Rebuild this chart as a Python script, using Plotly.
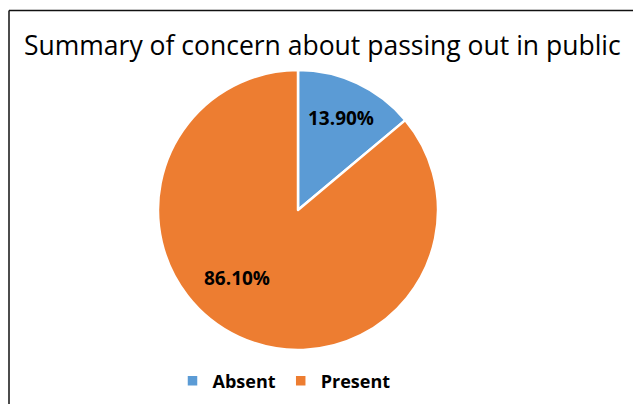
import math
import plotly.graph_objects as go

# Survey result: concern about passing out in public
categories = ["Absent", "Present"]
shares = [13.90, 86.10]
colors = ["#5B9BD5", "#ED7D31"]
title_text = "Summary of concern about passing out in public"

W, H = 633, 404
cx, cy, r = 298, 210, 140  # pie centre and radius in pixels

fig = go.Figure(
    go.Pie(
        labels=categories,
        values=shares,
        sort=False,
        direction="clockwise",
        rotation=0,
        marker=dict(colors=colors, line=dict(color="white", width=2.5)),
        textinfo="none",
        hoverinfo="label+percent",
        domain=dict(x=[(cx - r) / W, (cx + r) / W], y=[1 - (cy + r) / H, 1 - (cy - r) / H]),
    )
)

# Percentage labels placed inside each slice: (angle in degrees clockwise from top, radius px)
total = sum(shares)
mid_absent = shares[0] / total * 180
label_pos = [(mid_absent, 102), (222, 91)]
annotations = []
for v, (deg, rad) in zip(shares, label_pos):
    ang = math.radians(deg)
    x = cx + rad * math.sin(ang)
    y = cy - rad * math.cos(ang)
    annotations.append(dict(
        x=x / W, y=1 - y / H, xref="paper", yref="paper",
        text=f"<b>{v:.2f}%</b>", showarrow=False,
        font=dict(family="Open Sans", size=19, color="black"),
        xanchor="center", yanchor="middle",
    ))

annotations.append(dict(
    x=322 / W, y=1 - 45 / H, xref="paper", yref="paper",
    text=title_text, showarrow=False,
    font=dict(family="Open Sans", size=26.5, color="black"),
    xanchor="center", yanchor="middle",
))

fig.update_layout(
    width=W, height=H,
    margin=dict(l=0, r=0, t=0, b=0),
    paper_bgcolor="white",
    plot_bgcolor="white",
    showlegend=True,
    legend=dict(
        orientation="h", x=284 / W, xanchor="center", y=1 - 381 / H, yanchor="middle",
        font=dict(family="Open Sans", size=18, color="black", weight="bold"),
        itemwidth=30, traceorder="normal",
    ),
    annotations=annotations,
    shapes=[
        dict(type="line", xref="paper", yref="paper", x0=9 / W, x1=1.01, y0=1 - 10.5 / H, y1=1 - 10.5 / H,
             line=dict(color="#111111", width=1.5)),
        dict(type="line", xref="paper", yref="paper", x0=9 / W, x1=9 / W, y0=1 - 10.5 / H, y1=-0.01,
             line=dict(color="#111111", width=1.5)),
    ],
)

fig.write_html("out.html")
